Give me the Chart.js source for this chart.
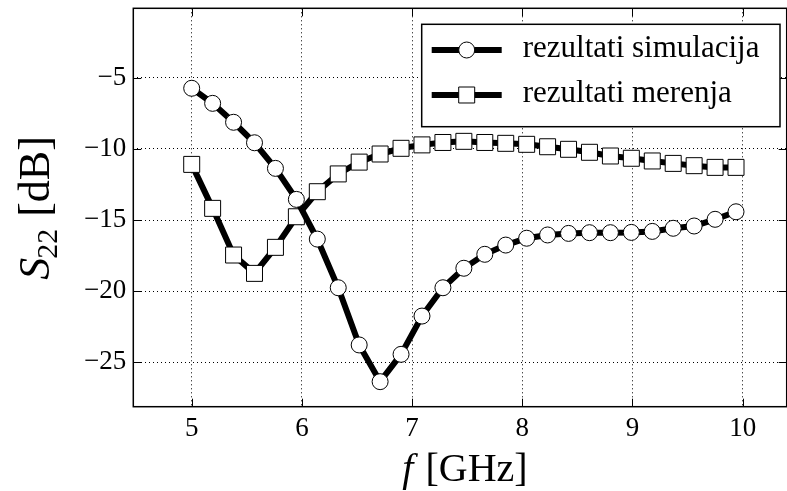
<!DOCTYPE html>
<html>
<head>
<meta charset="utf-8">
<script src="https://cdn.jsdelivr.net/npm/chart.js@4"></script>
<style>
html,body{margin:0;padding:0;background:#fff;}
#wrap{width:787px;height:491px;}
</style>
</head>
<body>
<div id="wrap"><canvas id="c" width="787" height="491"></canvas></div>
<script>
// ---- data ----
const freqGHz = [5.00, 5.19, 5.38, 5.57, 5.76, 5.95, 6.14, 6.33, 6.52, 6.71, 6.90, 7.09, 7.28, 7.47, 7.66, 7.85, 8.04, 8.23, 8.42, 8.61, 8.80, 8.99, 9.18, 9.37, 9.56, 9.75, 9.94];
const simulacija = [-5.74, -6.80, -8.13, -9.57, -11.37, -13.55, -16.34, -19.76, -23.78, -26.36, -24.44, -21.75, -19.76, -18.39, -17.41, -16.76, -16.28, -16.05, -15.94, -15.89, -15.89, -15.87, -15.80, -15.58, -15.42, -14.95, -14.42];
const merenja = [-11.09, -14.18, -17.46, -18.75, -16.92, -14.77, -13.01, -11.76, -10.93, -10.36, -9.96, -9.72, -9.55, -9.47, -9.55, -9.61, -9.68, -9.85, -10.03, -10.24, -10.50, -10.66, -10.85, -11.02, -11.18, -11.30, -11.30];
const xTicks = [5, 6, 7, 8, 9, 10];
const yTicks = [-25, -20, -15, -10, -5];
const seriesNames = ['rezultati simulacija', 'rezultati merenja'];
const xTitle = ['f', ' [GHz]'];
const yTitle = ['S', '22', ' [dB]'];

const SERIF = '"Liberation Serif", "DejaVu Serif", serif';
const fmt = v => (v < 0 ? '\u2212' + Math.abs(v) : String(v));

const toPts = arr => freqGHz.map((f, i) => ({x: f, y: arr[i]}));

const zeroPad = s => { s.paddingTop = 0; s.paddingBottom = 0; s.paddingLeft = 0; s.paddingRight = 0; };

const decor = {
  id: 'decor',
  afterDraw(chart) {
    const ctx = chart.ctx;
    const a = chart.chartArea;
    const xs = chart.scales.x, ys = chart.scales.y;
    ctx.save();
    // inward tick marks
    ctx.strokeStyle = '#000';
    ctx.lineWidth = 1;
    ctx.beginPath();
    xTicks.forEach(t => {
      const px = Math.round(xs.getPixelForValue(t)) + 0.5;
      ctx.moveTo(px, a.bottom); ctx.lineTo(px, a.bottom - 8);
      ctx.moveTo(px, a.top); ctx.lineTo(px, a.top + 8);
    });
    yTicks.forEach(t => {
      const py = Math.round(ys.getPixelForValue(t)) + 0.5;
      ctx.moveTo(a.left, py); ctx.lineTo(a.left + 8, py);
      ctx.moveTo(a.right, py); ctx.lineTo(a.right - 8, py);
    });
    ctx.stroke();
    // frame
    ctx.lineWidth = 1.5;
    ctx.strokeRect(a.left, a.top, a.right - a.left, a.bottom - a.top);

    // legend
    const lx0 = a.left + 288.4, ly0 = a.top + 16, lw = 358.3, lh = 102.4;
    ctx.fillStyle = '#fff';
    ctx.fillRect(lx0, ly0, lw, lh);
    ctx.lineWidth = 1.5;
    ctx.strokeStyle = '#000';
    ctx.strokeRect(lx0, ly0, lw, lh);
    chart.data.datasets.forEach((ds, i) => {
      const cy = ly0 + 25.7 + i * 45;
      ctx.beginPath();
      ctx.lineWidth = ds.borderWidth;
      ctx.strokeStyle = ds.borderColor;
      ctx.moveTo(lx0 + 10, cy); ctx.lineTo(lx0 + 80, cy);
      ctx.stroke();
      ctx.fillStyle = ds.pointBackgroundColor;
      ctx.strokeStyle = ds.pointBorderColor;
      ctx.lineWidth = 1;
      ctx.beginPath();
      if (ds.pointStyle === 'circle') {
        ctx.arc(lx0 + 45, cy, ds.pointRadius, 0, Math.PI * 2);
      } else {
        const s = ds.pointRadius * Math.SQRT1_2;
        ctx.rect(lx0 + 45 - s, cy - s, 2 * s, 2 * s);
      }
      ctx.fill(); ctx.stroke();
      ctx.fillStyle = '#000';
      ctx.font = '31px ' + SERIF;
      ctx.textBaseline = 'middle';
      ctx.textAlign = 'left';
      ctx.fillText(ds.label, lx0 + 101, cy - 1);
    });

    // x title
    ctx.fillStyle = '#000';
    ctx.textBaseline = 'alphabetic';
    ctx.textAlign = 'left';
    const fI = 'italic 40px ' + SERIF, fR = '40px ' + SERIF;
    ctx.font = fI; const w1 = ctx.measureText(xTitle[0]).width;
    ctx.font = fR; const w2 = ctx.measureText(xTitle[1]).width;
    const xc = (a.left + a.right) / 2 + 4;
    let x0 = xc - (w1 + w2) / 2;
    ctx.font = fI; ctx.fillText(xTitle[0], x0, 481);
    ctx.font = fR; ctx.fillText(xTitle[1], x0 + w1 + 2, 481);

    // y title (rotated)
    ctx.save();
    ctx.translate(49, (a.top + a.bottom) / 2 + 0.5);
    ctx.rotate(-Math.PI / 2);
    const fS = 'italic 44px ' + SERIF, fSub = '30px ' + SERIF, fY = '44px ' + SERIF;
    ctx.font = fS; const s1 = ctx.measureText(yTitle[0]).width;
    ctx.font = fSub; const s2 = ctx.measureText(yTitle[1]).width;
    ctx.font = fY; const s3 = ctx.measureText(yTitle[2]).width;
    let yx = -(s1 + s2 + s3) / 2;
    ctx.font = fS; ctx.fillText(yTitle[0], yx, 0);
    ctx.font = fSub; ctx.fillText(yTitle[1], yx + s1 - 1, 8);
    ctx.font = fY; ctx.fillText(yTitle[2], yx + s1 + s2, 0);
    ctx.restore();

    ctx.restore();
  }
};

new Chart(document.getElementById('c'), {
  type: 'line',
  data: {
    datasets: [
      {
        label: seriesNames[0],
        data: toPts(simulacija),
        borderColor: '#000',
        borderWidth: 6,
        pointStyle: 'circle',
        pointRadius: 8,
        pointBackgroundColor: '#fff',
        pointBorderColor: '#000',
        pointBorderWidth: 1,
        tension: 0
      },
      {
        label: seriesNames[1],
        data: toPts(merenja),
        borderColor: '#000',
        borderWidth: 6,
        pointStyle: 'rect',
        pointRadius: 11.3,
        pointBackgroundColor: '#fff',
        pointBorderColor: '#000',
        pointBorderWidth: 1,
        tension: 0
      }
    ]
  },
  options: {
    responsive: false,
    animation: false,
    devicePixelRatio: 1,
    layout: {autoPadding: false, padding: {top: 8.3, right: 0.3, left: 0, bottom: 0}},
    plugins: {legend: {display: false}, tooltip: {enabled: false}},
    scales: {
      x: {
        type: 'linear',
        min: 4.47,
        max: 10.4,
        afterBuildTicks: s => { s.ticks = xTicks.map(v => ({value: v})); },
        afterFit: s => { s.height = 84.3; zeroPad(s); },
        ticks: {
          callback: v => fmt(v),
          color: '#000',
          font: {family: SERIF, size: 27},
          padding: 6,
          maxRotation: 0
        },
        grid: {color: '#000', lineWidth: 1, drawTicks: false},
        border: {display: false, dash: [1, 3]}
      },
      y: {
        type: 'linear',
        min: -28.12,
        max: -0.12,
        afterBuildTicks: s => { s.ticks = yTicks.map(v => ({value: v})); },
        afterFit: s => { s.width = 133.3; zeroPad(s); },
        ticks: {
          callback: v => fmt(v),
          color: '#000',
          font: {family: SERIF, size: 27},
          padding: 7
        },
        grid: {color: '#000', lineWidth: 1, drawTicks: false},
        border: {display: false, dash: [1, 3]}
      }
    }
  },
  plugins: [decor]
});
</script>
</body>
</html>
